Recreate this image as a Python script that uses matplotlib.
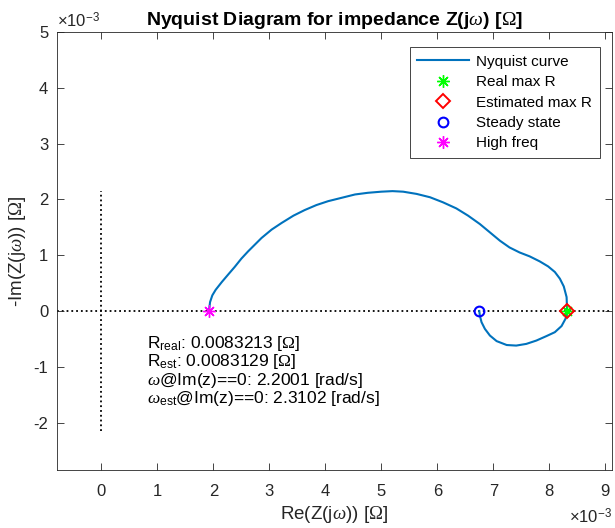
import numpy as np
import matplotlib
matplotlib.use("Agg")
import matplotlib.pyplot as plt
from matplotlib.ticker import FuncFormatter

plt.rcParams['font.family'] = ['Liberation Sans', 'DejaVu Sans']
plt.rcParams['mathtext.fontset'] = 'custom'
plt.rcParams['mathtext.rm'] = 'Liberation Sans'
plt.rcParams['mathtext.it'] = 'Liberation Serif:italic'
plt.rcParams['mathtext.sf'] = 'Liberation Serif'
plt.rcParams['mathtext.bf'] = 'Liberation Sans:bold'

# Nyquist curve (units of 1e-3 ohm)
re_z = [1.92, 1.94, 1.98, 2.04, 2.15, 2.26, 2.38, 2.50, 2.62, 2.74, 2.86,
        3.04, 3.22, 3.43, 3.63, 3.84, 4.05, 4.29, 4.53, 4.76, 5.00, 5.20,
        5.39, 5.63, 5.87, 6.10, 6.34, 6.55, 6.76, 6.94, 7.12, 7.29, 7.47,
        7.65, 7.83, 7.98, 8.10, 8.19, 8.26, 8.31, 8.32, 8.29, 8.22, 8.10,
        7.95, 7.77, 7.59, 7.41, 7.24, 7.06, 6.94, 6.85, 6.79, 6.76, 6.75]
neg_im_z = [0.0, 0.16, 0.28, 0.38, 0.52, 0.65, 0.79, 0.94, 1.07, 1.19, 1.31,
            1.46, 1.58, 1.71, 1.81, 1.90, 1.97, 2.03, 2.09, 2.12, 2.14, 2.15,
            2.14, 2.10, 2.04, 1.95, 1.84, 1.71, 1.56, 1.41, 1.26, 1.14, 1.05,
            0.98, 0.89, 0.80, 0.70, 0.58, 0.44, 0.25, 0.0, -0.14, -0.27, -0.38,
            -0.45, -0.53, -0.59, -0.62, -0.61, -0.54, -0.44, -0.32, -0.20, -0.08, 0.0]

r_real = 0.0083213
r_est = 0.0083129
w_real = 2.2001
w_est = 2.3102
r_steady = 6.75e-3
r_high = 1.92e-3

re_z = np.array(re_z) * 1e-3
neg_im_z = np.array(neg_im_z) * 1e-3

fig = plt.figure(figsize=(6.15, 5.28), dpi=100)
ax = fig.add_axes([0.0922, 0.110, 0.9028, 0.829])

dark = '#262626'
ax.axhline(0, color='k', linestyle=':', linewidth=1.3, zorder=1)
vmax = np.max(np.abs(neg_im_z))
ax.plot([0, 0], [-vmax, vmax], color='k', linestyle=':', linewidth=1.3, zorder=1)

ax.plot(re_z, neg_im_z, color='#0072BD', linewidth=1.5, label='Nyquist curve',
        solid_joinstyle='round', zorder=2)
star = (8, 2, 0)
ax.plot([r_real], [0], linestyle='none', marker=star, markersize=9, color='#00FF00',
        markeredgewidth=1.0, label='Real max R', zorder=3)
ax.plot([r_est], [0], linestyle='none', marker='D', markersize=7, markerfacecolor='none',
        markeredgecolor='#FF0000', markeredgewidth=1.4, label='Estimated max R', zorder=4)
ax.plot([r_steady], [0], linestyle='none', marker='o', markersize=7, markerfacecolor='none',
        markeredgecolor='#0000FF', markeredgewidth=1.5, label='Steady state', zorder=4)
ax.plot([r_high], [0], linestyle='none', marker=star, markersize=9, color='#FF00FF',
        markeredgewidth=1.0, label='High freq', zorder=4)

ax.set_xlim(-0.8e-3, 9.12e-3)
ax.set_ylim(-2.85e-3, 5e-3)
ax.set_xticks(np.arange(0, 10) * 1e-3)
ax.set_yticks(np.arange(-2, 6) * 1e-3)
fmt = FuncFormatter(lambda v, p: '%g' % round(v * 1e3, 6))
ax.xaxis.set_major_formatter(fmt)
ax.yaxis.set_major_formatter(fmt)
ax.tick_params(direction='in', length=5, width=0.6, colors=dark, labelsize=12,
               top=True, right=True, pad=6)
ax.tick_params(axis='x', pad=10)
for s in ax.spines.values():
    s.set_color(dark)
    s.set_linewidth(0.6)

ax.set_title(r'Nyquist Diagram for impedance Z(j$\omega$) [$\mathsf{\Omega}$]',
             fontsize=14, fontweight='bold', color='k', pad=5)
ax.set_xlabel(r'Re(Z(j$\omega$)) [$\mathsf{\Omega}$]', fontsize=13.5, color=dark, labelpad=4)
ax.set_ylabel(r'-Im(Z(j$\omega$)) [$\mathsf{\Omega}$]', fontsize=13.5, color=dark, labelpad=4)

ax.text(0.0, 1.003, r'$\times$10$^{\mathrm{-3}}$', transform=ax.transAxes, fontsize=12,
        color=dark, ha='left', va='bottom')
ax.text(1.0, -0.085, r'$\times$10$^{\mathrm{-3}}$', transform=ax.transAxes, fontsize=12,
        color=dark, ha='right', va='top')

info = [r'R$_{\mathrm{real}}$: %.7f [$\mathsf{\Omega}$]' % r_real,
        r'R$_{\mathrm{est}}$: %.7f [$\mathsf{\Omega}$]' % r_est,
        r'$\omega$@Im(z)==0: %.4f [rad/s]' % w_real,
        r'$\omega_{\mathrm{est}}$@Im(z)==0: %.4f [rad/s]' % w_est]
ax.text(0.81e-3, -1.075e-3, '\n'.join(info), fontsize=12.5, color='k',
        ha='left', va='center', linespacing=0.95)

leg = ax.legend(loc='upper right', bbox_to_anchor=(0.978, 0.966), borderaxespad=0,
                fontsize=11, frameon=True, fancybox=False, edgecolor=dark, framealpha=1,
                borderpad=0.5, labelspacing=0.42, handlelength=3.4, handletextpad=0.45)
leg.get_frame().set_linewidth(0.6)

fig.savefig('out.png', dpi=100)
